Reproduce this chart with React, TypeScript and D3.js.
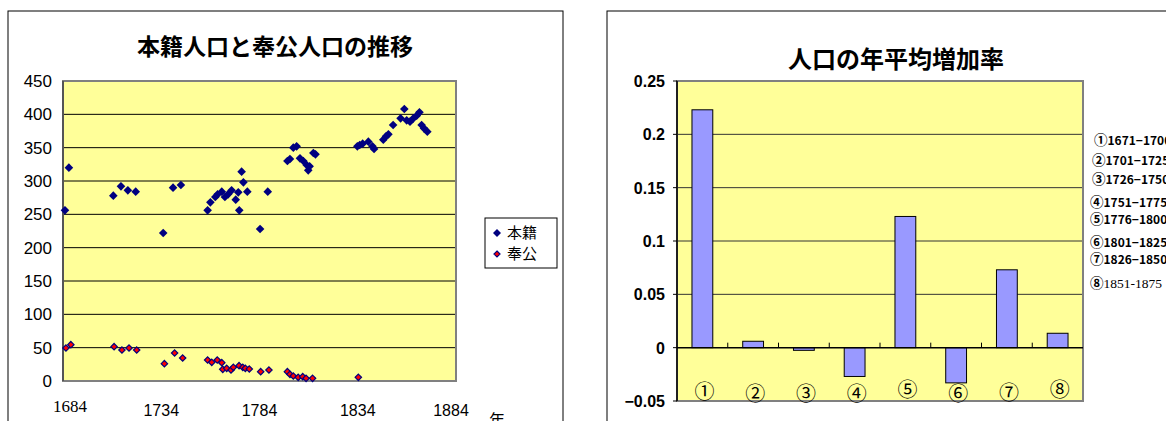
import React from "react";
import * as d3 from "d3";

// 本籍 (registered) population: year, persons
const honsekiYears = [
  1685, 1687, 1709.6, 1713.5, 1717, 1721, 1735, 1740, 1744, 1757.6, 1759, 1761.5, 1762.7,
  1764.8, 1766.4, 1768, 1769.8, 1771.9, 1773.2, 1773.7, 1774.9, 1775.8, 1777.8, 1784.3,
  1788.2, 1798.2, 1799.5, 1801.2, 1802.9, 1804.6, 1806.3, 1808, 1808.8, 1809.5, 1811.4,
  1812.5, 1833.8, 1835, 1836.5, 1839.4, 1841.5, 1842.3, 1847, 1848.4, 1849.6, 1852, 1855.8,
  1857.7, 1858.9, 1860.6, 1862.3, 1864, 1865.4, 1866.5, 1867.7, 1869.4,
];
const honsekiValues = [
  256, 320, 278, 292, 286, 284, 222, 290, 294, 256, 268, 276, 280, 284, 276, 280, 286, 272,
  283, 256, 314, 298, 284, 228, 284, 330, 333, 350, 352, 334, 330, 324, 316, 322, 342, 340,
  352, 354, 356, 359, 352, 348, 362, 367, 370, 384, 394, 408, 391, 389, 394, 398, 403, 384,
  379, 374,
];

// 奉公 (in service) population: year, persons
const houkouYears = [
  1685.5, 1688, 1710, 1714, 1717.6, 1721.5, 1735.6, 1740.8, 1744.9, 1757.6, 1759.7, 1762.5,
  1764.8, 1765.3, 1767.3, 1769.5, 1770.7, 1773.6, 1775.5, 1776.8, 1778.8, 1784.6, 1788.8,
  1798.2, 1799.5, 1801.2, 1803.7, 1806, 1807.7, 1811, 1834.3,
];
const houkouValues = [
  49.5, 54.5, 51.5, 46.5, 49.5, 46.5, 26, 42, 34.5, 31.5, 28, 31.5, 27.5, 17.5, 19, 16.5,
  20.5, 23, 20.5, 19, 18, 14, 16.5, 14, 10, 7.5, 5.5, 6.5, 4, 4, 5.5,
];

const leftYTicks = [0, 50, 100, 150, 200, 250, 300, 350, 400, 450];
const leftXTicks = [1684, 1734, 1784, 1834, 1884];

// Average annual growth rate by 25-year period
const periods = ["①", "②", "③", "④", "⑤", "⑥", "⑦", "⑧"];
const growthRates = [0.223, 0.006, -0.0025, -0.027, 0.123, -0.033, 0.073, 0.0135];
const periodNotes = [
  "①1671−1700",
  "②1701−1725",
  "③1726−1750",
  "④1751−1775",
  "⑤1776−1800",
  "⑥1801−1825",
  "⑦1826−1850",
  "⑧1851-1875",
];
const rightYTicks = [-0.05, 0, 0.05, 0.1, 0.15, 0.2, 0.25];

const JP = "'Noto Sans CJK JP', sans-serif";
const SANS = "'Liberation Sans', Arial, sans-serif";
const SERIF = "'Liberation Serif', 'Times New Roman', serif";
const PLOT_FILL = "#FFFF99";

function diamond(cx: number, cy: number, r: number) {
  return `M${cx},${cy - r}L${cx + r},${cy}L${cx},${cy + r}L${cx - r},${cy}Z`;
}

function LeftChart() {
  const x = d3.scaleLinear().domain([1684, 1884]).range([63, 456]);
  const y = d3.scaleLinear().domain([0, 450]).range([381, 81]);
  const [x0, x1] = x.range();
  const [yb, yt] = y.range();
  return (
    <g>
      <rect x={8} y={11} width={555} height={430} fill="#fff" stroke="#000" strokeWidth={1} />
      <text x={275} y={55} textAnchor="middle" fontFamily={JP} fontWeight={700} fontSize={23}>
        本籍人口と奉公人口の推移
      </text>
      <rect x={x0} y={yt} width={x1 - x0} height={yb - yt} fill={PLOT_FILL} />
      {leftYTicks.slice(1).map((t) => (
        <line key={t} x1={x0} x2={x1} y1={y(t)} y2={y(t)} stroke="#000" strokeWidth={1} />
      ))}
      <rect x={x0} y={yt} width={x1 - x0} height={yb - yt} fill="none" stroke="#808080" strokeWidth={2} />
      <line x1={x0} x2={x0} y1={yt} y2={yb} stroke="#555" strokeWidth={2} />
      {leftYTicks.map((t) => (
        <text key={t} x={52} y={y(t) + 6} textAnchor="end" fontFamily={SANS} fontSize={17}>
          {t}
        </text>
      ))}
      {leftXTicks.map((t, i) => (
        <text
          key={t}
          x={x(t) + (i === 0 ? 7 : i === leftXTicks.length - 1 ? -5 : 0)}
          y={i === 0 ? 412 : 416}
          textAnchor="middle"
          fontFamily={i === 0 ? SERIF : SANS}
          fontSize={i === 0 ? 17 : 16}
        >
          {t}
        </text>
      ))}
      <text x={489} y={426} fontFamily={JP} fontSize={16}>
        年
      </text>
      {honsekiYears.map((yr, i) => (
        <path key={"h" + i} d={diamond(x(yr), y(honsekiValues[i]), 4.3)} fill="#000080" />
      ))}
      {houkouYears.map((yr, i) => (
        <path
          key={"k" + i}
          d={diamond(x(yr), y(houkouValues[i]), 3.2)}
          fill="#FF0000"
          stroke="#000080"
          strokeWidth={1.2}
        />
      ))}
      {/* legend */}
      <rect x={485} y={218} width={72} height={50} fill="#fff" stroke="#000" strokeWidth={1} />
      <path d={diamond(497, 233, 4)} fill="#000080" />
      <text x={507} y={238} fontFamily={JP} fontSize={15}>
        本籍
      </text>
      <path d={diamond(497, 254, 3)} fill="#FF0000" stroke="#000080" strokeWidth={1.2} />
      <text x={507} y={259} fontFamily={JP} fontSize={15}>
        奉公
      </text>
    </g>
  );
}

function RightChart() {
  const x = d3.scaleBand<string>().domain(periods).range([677, 1083]).padding(0);
  const y = d3.scaleLinear().domain([-0.05, 0.25]).range([401, 81]);
  const [x0, x1] = x.range();
  const [yb, yt] = y.range();
  const bw = x.bandwidth() * 0.41;
  const labelDy = [0, 2, 2, 2, -2, 2, 1, -2];
  const noteY = [145, 165, 184, 207, 224, 247, 264, 288];
  const noteX = [1094, 1092, 1092, 1090, 1090, 1090, 1090, 1090];
  return (
    <g>
      <rect x={607} y={11} width={600} height={430} fill="#fff" stroke="#000" strokeWidth={1} />
      <text x={896} y={68} textAnchor="middle" fontFamily={JP} fontWeight={700} fontSize={24}>
        人口の年平均増加率
      </text>
      <rect x={x0} y={yt} width={x1 - x0} height={yb - yt} fill={PLOT_FILL} />
      {rightYTicks
        .filter((t) => t > -0.05 && t !== 0)
        .map((t) => (
          <line key={t} x1={x0} x2={x1} y1={y(t)} y2={y(t)} stroke="#333" strokeWidth={1} />
        ))}
      <rect x={x0} y={yt} width={x1 - x0} height={yb - yt} fill="none" stroke="#808080" strokeWidth={2} />
      {growthRates.map((v, i) => {
        const cx = (x(periods[i]) as number) + x.bandwidth() / 2;
        const top = y(Math.max(v, 0));
        const h = Math.abs(y(v) - y(0));
        return (
          <rect key={i} x={cx - bw / 2} y={top} width={bw} height={h} fill="#9999FF" stroke="#000" strokeWidth={1} />
        );
      })}
      <line x1={x0} x2={x1} y1={y(0)} y2={y(0)} stroke="#000" strokeWidth={1.5} />
      {periods.slice(1).map((p) => (
        <line key={p} x1={x(p)} x2={x(p)} y1={y(0)} y2={y(0) - 5} stroke="#000" strokeWidth={1} />
      ))}
      <line x1={x0} x2={x0} y1={yt} y2={yb} stroke="#000" strokeWidth={1.5} />
      {rightYTicks.map((t) => (
        <line key={"tk" + t} x1={x0 - 4} x2={x0} y1={y(t)} y2={y(t)} stroke="#000" strokeWidth={1} />
      ))}
      {rightYTicks.map((t) => (
        <text key={t} x={665} y={y(t) + 6} textAnchor="end" fontFamily={SANS} fontWeight={700} fontSize={16}>
          {t < 0 ? "−" + Math.abs(t) : t}
        </text>
      ))}
      {periods.map((p, i) => (
        <text
          key={p}
          x={(x(p) as number) + x.bandwidth() / 2 + 2}
          y={399 + labelDy[i]}
          textAnchor="middle"
          fontFamily={JP}
          fontSize={20}
        >
          {p}
        </text>
      ))}
      {periodNotes.map((n, i) => {
        const last = i === periodNotes.length - 1;
        return (
          <text key={n} x={noteX[i]} y={noteY[i]} fontFamily={JP} fontWeight={700} fontSize={12}>
            <tspan fontSize={13.5}>{n.slice(0, 1)}</tspan>
            <tspan fontFamily={last ? SERIF : JP} fontWeight={last ? 400 : 700} fontSize={last ? 13.5 : 12}>
              {n.slice(1)}
            </tspan>
          </text>
        );
      })}
    </g>
  );
}

export default function App() {
  return (
    <svg
      width={1166}
      height={421}
      style={{ position: "absolute", left: 0, top: 0, background: "#fff" }}
    >
      <LeftChart />
      <RightChart />
    </svg>
  );
}
